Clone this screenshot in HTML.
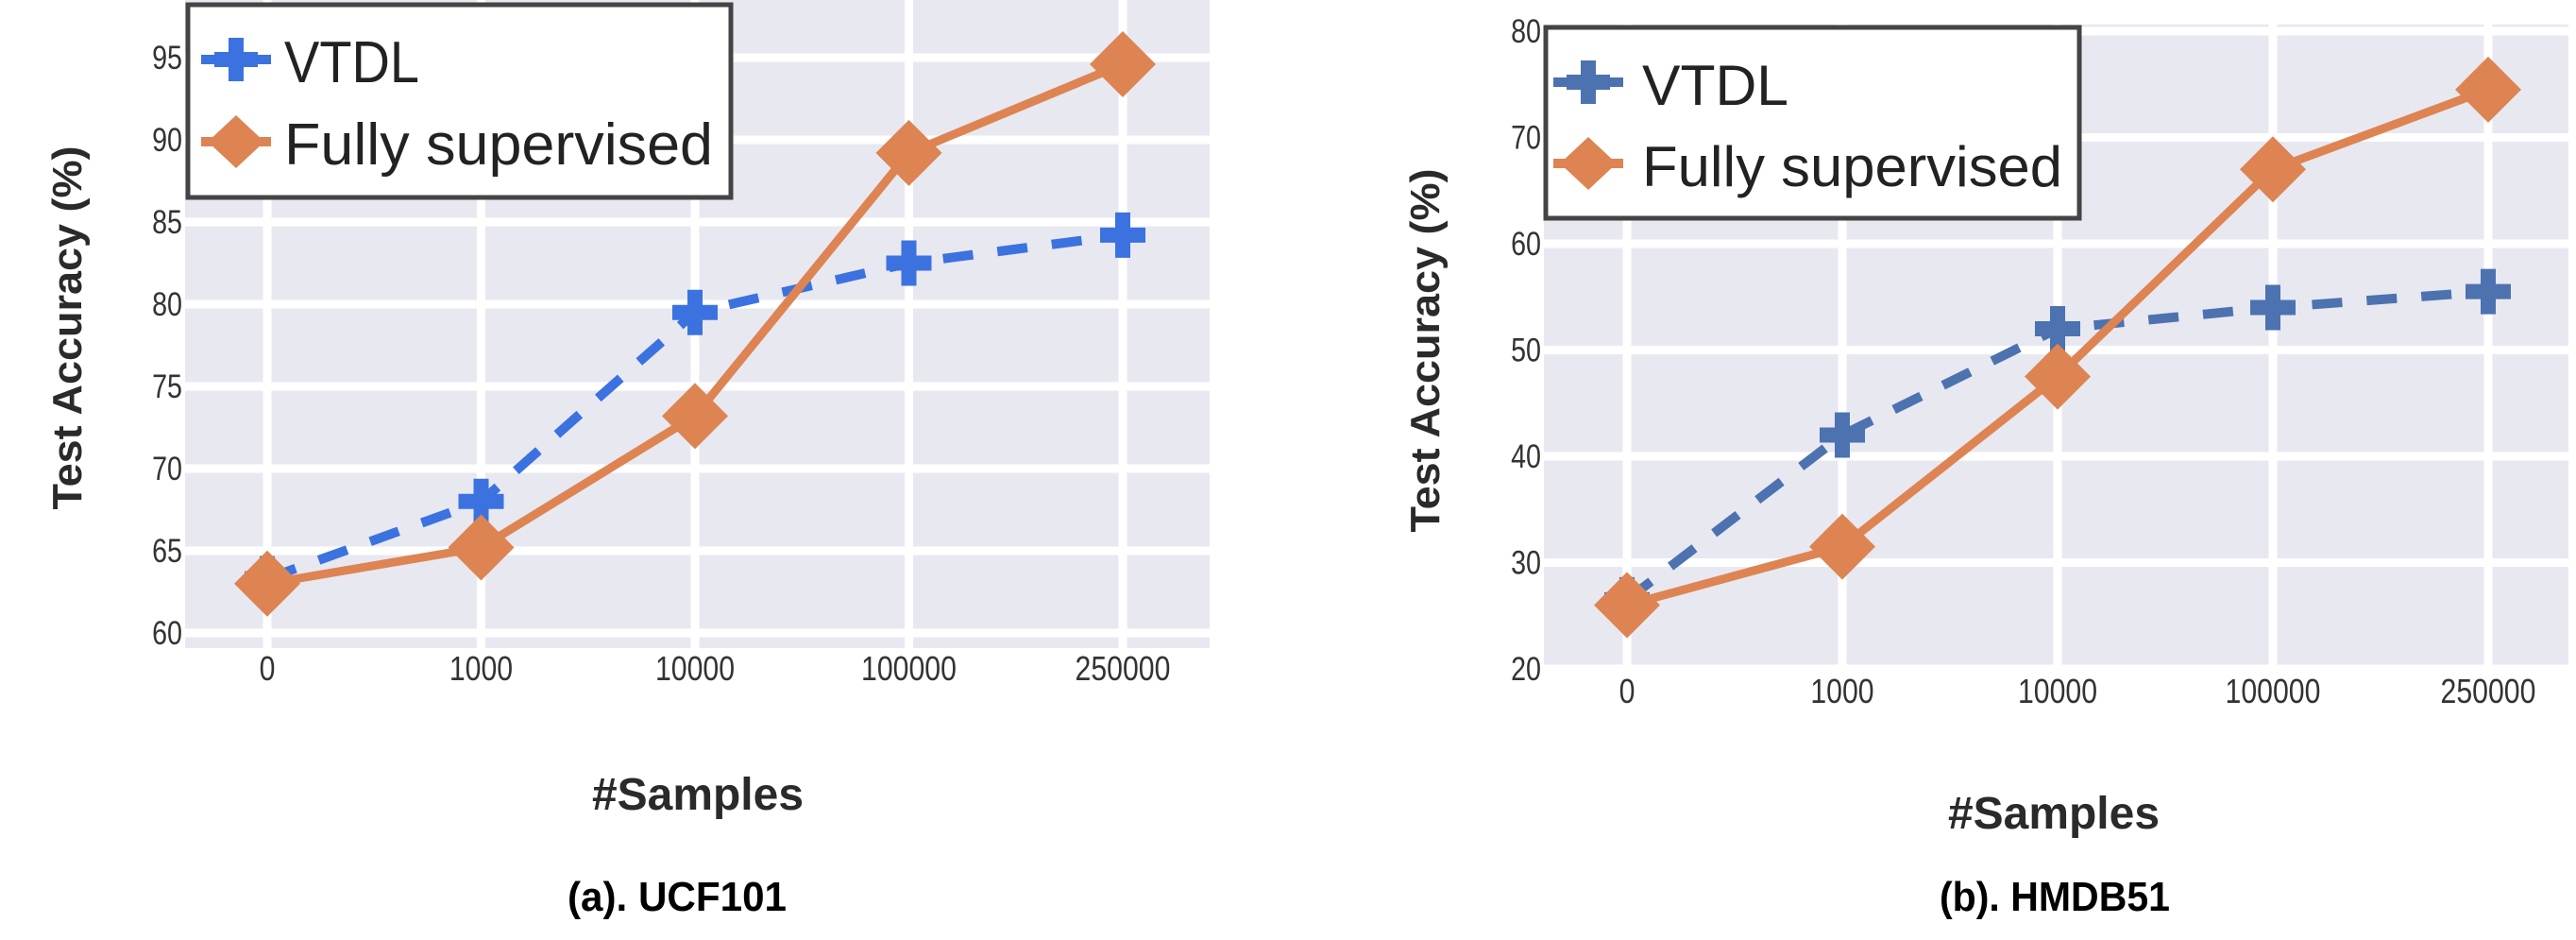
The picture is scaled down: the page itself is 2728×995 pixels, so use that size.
<!DOCTYPE html>
<html><head><meta charset="utf-8"><style>
html,body{margin:0;padding:0;background:#fff;}
svg{display:block;font-family:"Liberation Sans",sans-serif;}
</style></head><body>
<svg id="svg" width="2728" height="995" viewBox="0 0 2728 995" xmlns="http://www.w3.org/2000/svg"></svg>
<script>
const categories = ["0","1000","10000","100000","250000"];
const ucfVtdl = [63.3, 68.0, 79.5, 82.5, 84.2];
const ucfFull = [63.0, 65.2, 73.2, 89.2, 94.6];
const ucfTicks = [60,65,70,75,80,85,90,95];
const hmdbVtdl = [26.5, 42.0, 52.0, 54.0, 55.5];
const hmdbFull = [26.0, 31.5, 47.5, 67.0, 74.5];
const hmdbTicks = [20,30,40,50,60,70,80];

const NS="http://www.w3.org/2000/svg";
const svg=document.getElementById('svg');
function mk(tag,attrs,parent){const e=document.createElementNS(NS,tag);for(const k in attrs)e.setAttribute(k,attrs[k]);(parent||svg).appendChild(e);return e;}

function chart(cfg){
  const g=mk('g',{});
  
  
  const yS=v=>cfg.y0px+(v-cfg.y0)*(cfg.y1px-cfg.y0px)/(cfg.y1-cfg.y0);
  const xS=i=>cfg.x0px+i*cfg.dx;
  const bg=mk('rect',{x:cfg.left,y:cfg.top,width:cfg.right-cfg.left,height:cfg.bottom-cfg.top,fill:'#e8e8f1'},g);
  
  
  cfg.ticks.forEach(t=>{
    const l=mk('line',{x1:cfg.left,x2:cfg.right,y1:yS(t),y2:yS(t),stroke:'#fff','stroke-width':9},g);
    
    
    const tx=mk('text',{x:cfg.left-3,y:yS(t)+12,'text-anchor':'end','font-size':35,fill:'#333',transform:`translate(${cfg.left-3},0) scale(0.82,1) translate(${-(cfg.left-3)},0)`},g);
    tx.textContent=t;
    
    
  });
  categories.forEach((c,i)=>{
    const l=mk('line',{x1:xS(i),x2:xS(i),y1:cfg.top,y2:cfg.bottom,stroke:'#fff','stroke-width':9},g);
    
    
    const tx=mk('text',{x:xS(i),y:cfg.xlabY+12,'text-anchor':'middle','font-size':36,fill:'#333',transform:`translate(${xS(i)},0) scale(0.84,1) translate(${-xS(i)},0)`},g);
    tx.textContent=c;
    
    
  });
  const vp=cfg.vtdl.map((v,i)=>xS(i)+','+yS(v)).join(' ');
  const vl=mk('polyline',{points:vp,fill:'none',stroke:cfg.blue,'stroke-width':10,'stroke-dasharray':'32,26'},g);
  
  
  const fp=cfg.full.map((v,i)=>xS(i)+','+yS(v)).join(' ');
  const fl=mk('polyline',{points:fp,fill:'none',stroke:'#dd8452','stroke-width':9},g);
  
  
  cfg.vtdl.forEach((v,i)=>{
    const x=xS(i),y=yS(v);
    const p=mk('path',{d:`M${x-8},${y-24}h16v16h16v16h-16v16h-16v-16h-16v-16h16z`,fill:cfg.blue},g);
    
    
  });
  cfg.full.forEach((v,i)=>{
    const x=xS(i),y=yS(v);
    const p=mk('path',{d:`M${x},${y-35}L${x+35},${y}L${x},${y+35}L${x-35},${y}z`,fill:'#dd8452'},g);
    
    
  });
  const L=cfg.leg;
  const lg=mk('g',{},g);
  
  
  mk('rect',{x:L.x,y:L.y,width:L.w,height:L.h,fill:'#fff',stroke:'#444','stroke-width':5},lg);
  const e1=mk('g',{},lg);
  
  
  mk('line',{x1:L.mx-37,x2:L.mx+37,y1:L.r1,y2:L.r1,stroke:cfg.blue,'stroke-width':10},e1);
  mk('path',{d:`M${L.mx-8},${L.r1-23}h16v15h15v16h-15v15h-16v-15h-15v-16h15z`,fill:cfg.blue},e1);
  const t1=mk('text',{x:L.tx,y:L.r1+24,'font-size':L.fs,fill:'#222',textLength:L.w1,lengthAdjust:'spacingAndGlyphs'},e1);
  t1.textContent='VTDL';
  const e2=mk('g',{},lg);
  
  
  mk('line',{x1:L.mx-37,x2:L.mx+37,y1:L.r2,y2:L.r2,stroke:'#dd8452','stroke-width':10},e2);
  mk('path',{d:`M${L.mx},${L.r2-28}L${L.mx+30},${L.r2}L${L.mx},${L.r2+28}L${L.mx-30},${L.r2}z`,fill:'#dd8452'},e2);
  const t2=mk('text',{x:L.tx,y:L.r2+24,'font-size':L.fs,fill:'#222',textLength:L.w2,lengthAdjust:'spacingAndGlyphs'},e2);
  t2.textContent='Fully supervised';
  const yt=mk('text',{x:0,y:0,'font-size':44,'font-weight':'bold',fill:'#2a2a2a','text-anchor':'middle',textLength:385,lengthAdjust:'spacingAndGlyphs',transform:`translate(${cfg.ytX+16},${cfg.ytY}) rotate(-90)`},g);
  yt.textContent='Test Accuracy (%)';
  
  
  const xt=mk('text',{x:cfg.xtX,y:cfg.xtY+17,'font-size':48,'font-weight':'bold',fill:'#2a2a2a','text-anchor':'middle',textLength:224,lengthAdjust:'spacingAndGlyphs'},g);
  xt.textContent='#Samples';
  
  
  const cp=mk('text',{x:cfg.capX,y:cfg.capY+16,'font-size':44,'font-weight':'bold',fill:'#000','text-anchor':'middle',textLength:cfg.capW,lengthAdjust:'spacingAndGlyphs'},g);
  cp.textContent=cfg.cap;
  
  
}

chart({name:'ucf101-chart',left:196,right:1281,top:0,bottom:686,y0:60,y1:95,y0px:670,y1px:61,x0px:283,dx:226.5,
  ticks:ucfTicks,vtdl:ucfVtdl,full:ucfFull,blue:'#3b72e0',xlabY:708,
  leg:{x:199,y:5,w:575,h:204,mx:250,r1:63,r2:150,tx:301,fs:62,w1:143,w2:454},
  ytX:70,ytY:347,xtX:739,xtY:840,capX:717,capY:948,cap:'(a). UCF101',capW:232});
chart({name:'hmdb51-chart',left:1635,right:2720,top:26,bottom:712,y0:20,y1:80,y0px:708,y1px:33,x0px:1723,dx:228,
  ticks:hmdbTicks,vtdl:hmdbVtdl,full:hmdbFull,blue:'#4c72b0',xlabY:732,
  leg:{x:1637,y:29,w:565,h:202,mx:1682,r1:87,r2:173,tx:1739,fs:60,w1:155,w2:445},
  ytX:1508,ytY:371,xtX:2175,xtY:860,capX:2176,capY:948,cap:'(b). HMDB51',capW:244});
</script>
</body></html>
